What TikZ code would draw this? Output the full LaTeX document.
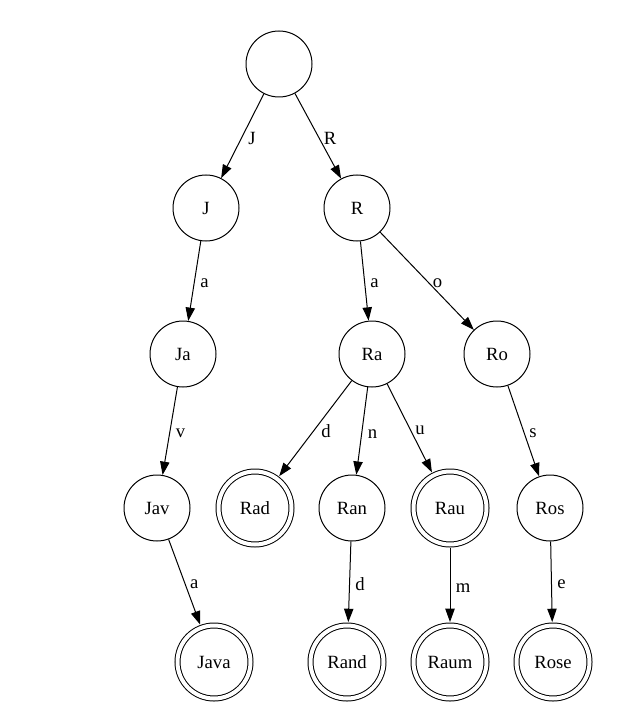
\documentclass[tikz,border=0pt]{standalone}
\usepackage{fontspec}
\setmainfont{Liberation Serif}
\usepackage{tikz}
\usetikzlibrary{arrows.meta, positioning}

\begin{document}
\begin{tikzpicture}[
    x=0.75pt, y=-0.75pt,
    font=\rmfamily\fontsize{14}{16}\selectfont,
    state/.style={circle, draw, line width=0.75pt, minimum size=49.5pt,
                  inner sep=0pt},
    accept/.style={circle, draw, line width=0.75pt, double, double distance=3pt,
                   minimum size=54.75pt, inner sep=0pt, outer sep=2.6pt},
    arrow/.style={-{Triangle[length=10pt, width=7pt]}, line width=0.75pt},
    lbl/.style={right, inner sep=4pt, yshift=-2pt}
]
\useasboundingbox (0,0) rectangle (635,709);

% Level 0 / 1
\node[state] at (279,64) (root) {};
\node[state] at (206,208) (J) {J};
\node[state] at (357,208) (R) {R};

% Level 2
\node[state] at (183,354) (Ja) {Ja};
\node[state] at (372,354) (Ra) {Ra};
\node[state] at (497,354) (Ro) {Ro};

% Level 3
\node[state] at (157,508) (Jav) {Jav};
\node[accept] at (255,508) (Rad) {Rad};
\node[state] at (352,508) (Ran) {Ran};
\node[accept] at (450,508) (Rau) {Rau};
\node[state] at (550,508) (Ros) {Ros};

% Level 4
\node[accept] at (214,662) (Java) {Java};
\node[accept] at (347,662) (Rand) {Rand};
\node[accept] at (450,662) (Raum) {Raum};
\node[accept] at (553,662) (Rose) {Rose};

% Arrows
\draw[arrow] (root) -- node[lbl] {J} (J);
\draw[arrow] (root) -- node[lbl] {R} (R);
\draw[arrow] (J) -- node[lbl] {a} (Ja);
\draw[arrow] (R) -- node[lbl] {a} (Ra);
\draw[arrow] (R) -- node[lbl] {o} (Ro);
\draw[arrow] (Ja) -- node[lbl] {v} (Jav);
\draw[arrow] (Ra) -- node[lbl] {d} (Rad);
\draw[arrow] (Ra) -- node[lbl] {n} (Ran);
\draw[arrow] (Ra) -- node[lbl] {u} (Rau);
\draw[arrow] (Ro) -- node[lbl] {s} (Ros);
\draw[arrow] (Jav) -- node[lbl] {a} (Java);
\draw[arrow] (Ran) -- node[lbl] {d} (Rand);
\draw[arrow] (Rau) -- node[lbl] {m} (Raum);
\draw[arrow] (Ros) -- node[lbl] {e} (Rose);

\end{tikzpicture}
\end{document}
